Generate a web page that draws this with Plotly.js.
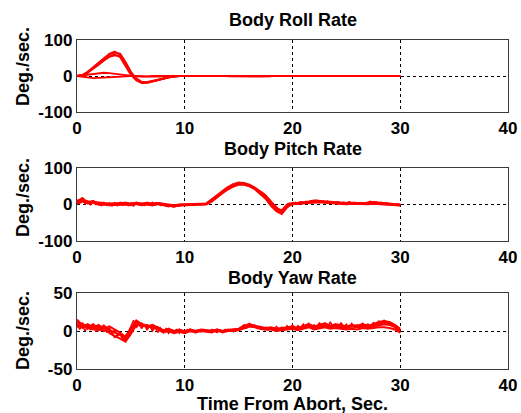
<!DOCTYPE html>
<html>
<head>
<meta charset="utf-8">
<script src="https://cdn.plot.ly/plotly-3.0.1.min.js"></script>
<style>html,body{margin:0;padding:0;background:#fff;}#chart{width:521px;height:413px;}</style>
</head>
<body>
<div id="chart"></div>
<script>
// ---- data ----
const titles = ["Body Roll Rate", "Body Pitch Rate", "Body Yaw Rate"];
const yLabel = "Deg./sec.";
const xLabel = "Time From Abort, Sec.";
const xTicks = [0, 10, 20, 30, 40];
const rollTicks = [-100, 0, 100];
const pitchTicks = [-100, 0, 100];
const yawTicks = [-50, 0, 50];

const rollTime = [0,0.5,1,1.5,2,2.5,3,3.5,4,4.5,5,5.5,6,6.5,7,7.5,8,8.5,9,9.5,10,15,20,25,30];
const roll1 = [0,3,12,24,37,50,62,68,58,32,5,-12,-20,-19,-16,-12,-8,-4,-1,0,0,0,0,0,0];
const roll2 = [0,2,10,21,33,45,55,60,52,28,3,-11,-18,-17,-14,-10,-6,-3,0,0,0,0,0,0,0];
const roll3 = [0,2,9,19,31,43,53,57,55,36,10,-6,-16,-17,-15,-11,-7,-3,-1,0,0,0,0,0,0];
const roll4 = [0,3,11,23,35,48,60,65,62,40,12,-8,-18,-19,-16,-12,-8,-4,-1,0,0,0,0,0,0];
const roll5 = [0,2,4,6,8,9,8,6,3,1,0,-1,-2,-3,-2,-2,-1,0,0,0,0,0,0,0,0];
const roll6 = [0,-2,-4,-6,-5,-4,-3,-1,0,1,0,0,-1,-1,0,0,0,0,0,0,0,0,0,0,0];
const rollTailTime = [14,15,16,17,18];
const rollTail = [-1,-2,-1,-2,-1];

const time = [0,0.5,1,1.5,2,2.5,3,3.5,4,4.5,5,5.5,6,6.5,7,7.5,8,8.5,9,9.5,
  10,10.5,11,11.5,12,12.5,13,13.5,14,14.5,15,15.5,16,16.5,17,17.5,18,18.5,19,19.5,
  20,20.5,21,21.5,22,22.5,23,23.5,24,24.5,25,25.5,26,26.5,27,27.5,28,28.5,29,29.5,30];

const timeFine = [0,0.25,0.5,0.75,1,1.25,1.5,1.75,2,2.25,2.5,2.75,3,3.25,3.5,3.75,4,4.25,4.5,4.75,
  5,5.25,5.5,5.75,6,6.25,6.5,6.75,7,7.25,7.5,7.75,8,8.25,8.5,8.75,9,9.25,9.5,9.75,
  10,10.25,10.5,10.75,11,11.25,11.5,11.75,12,12.25,12.5,12.75,13,13.25,13.5,13.75,14,14.25,14.5,14.75,
  15,15.25,15.5,15.75,16,16.25,16.5,16.75,17,17.25,17.5,17.75,18,18.25,18.5,18.75,19,19.25,19.5,19.75,
  20,20.25,20.5,20.75,21,21.25,21.5,21.75,22,22.25,22.5,22.75,23,23.25,23.5,23.75,24,24.25,24.5,24.75,
  25,25.25,25.5,25.75,26,26.25,26.5,26.75,27,27.25,27.5,27.75,28,28.25,28.5,28.75,29,29.25,29.5,29.75,30];

const pitch1 = [5,12,6,8,3,1,2,0,3,1, 2,4,1,3,2,4,1,-2,-4,-1, 0,1,1,1,2,12,24,36,46,54,
  58,57,52,44,34,20,2,-14,-20,-2, 3,4,5,7,9,8,6,5,4,5, 3,4,3,2,3,5,4,2,1,0, -1];
const pitch2 = [8,18,4,10,1,3,-1,2,0,4, -1,3,0,2,-1,3,-1,-3,-6,-2, -1,0,0,2,1,10,22,34,44,52,
  56,56,51,42,30,16,-4,-18,-26,-8, 2,3,4,6,8,9,7,6,4,4, 2,3,2,1,2,6,3,1,0,-1, -2];
const pitch3 = [2,8,3,5,-1,0,-2,-1,-2,0, -2,1,-2,0,-3,1,-2,-4,-5,-3, -2,-1,0,0,0,8,20,31,41,49,
  54,54,50,43,33,22,6,-10,-16,0, 1,2,3,5,6,6,5,4,3,3, 1,2,1,0,1,2,2,0,-1,-2, -3];
const pitch4 = [10,14,8,6,5,4,3,4,3,5, 3,5,3,5,2,4,2,0,-2,0, 1,2,2,3,3,14,26,38,48,56,
  60,59,54,46,36,24,8,-8,-22,-6, 4,5,6,8,11,10,8,7,6,6, 4,5,4,3,3,7,5,3,2,1, 0];
const pitch5 = [12,4,16,2, 9,-1,7,0, 5,-3,6,-2, 4,-4,5,-3, 6,-2,5,-3, 4,-4,6,-1, 3,-3,5,-2,
  6,-2,4,-3, 3,-4,-6,-2, -6,-3,-5,-1, 0,-2,1,-1, 1,0,2,0, 2,8,14,20, 26,32,38,42,
  47,51,54,57, 59,58,57,55, 53,50,46,42, 37,32,26,18, 10,0,-10,-18, -24,-10,0,4,
  2,6,3,7, 4,8,6,10, 8,12,6,10, 5,9,4,8, 3,7,2,6, 4,8,3,6, 2,5,1,4, 6,9,4,7,
  3,6,1,4, 2,3,0,1, -1];

const yaw1 = [12,6,9,4,8,3,6,2,-2,-8, 4,12,8,6,5,3,1,2,0,1, -1,1,0,1,1,0,2,0,1,2,
  3,7,9,7,5,4,5,3,4,5, 6,4,7,9,6,8,10,7,9,8, 6,8,7,9,7,9,12,13,12,8, 3];
const yaw2 = [5,10,3,7,1,5,-3,-6,-10,-14, -4,8,10,4,7,2,-2,0,-3,-1, -3,0,-2,0,-1,-2,1,-2,0,0,
  1,4,6,5,3,2,3,1,2,3, 4,2,5,6,4,5,7,5,6,5, 4,6,5,6,5,6,8,9,8,5, 0];
const yaw3 = [8,4,7,2,6,0,3,-8,-4,-12, 0,9,6,8,3,5,0,3,-1,2, -2,2,-1,1,0,-1,1,-1,2,1,
  2,5,8,6,4,3,4,2,3,4, 5,3,6,8,5,7,9,6,8,7, 5,7,6,8,6,8,10,11,10,6, 1];
const yaw4 = [15,8,5,9,3,7,1,-2,-5,-10, 2,14,9,6,8,4,1,2,0,1, 0,2,0,2,1,0,2,0,1,2,
  2,6,8,5,3,2,2,0,1,2, 3,1,3,5,2,4,5,3,4,3, 2,3,2,4,3,4,5,5,4,2, -2];
const yaw5 = [10,2,8,0, 7,1,9,-1, 6,0,8,-2, 4,-4,2,-6, -3,-12,-6,-2, 6,14,4,10, 3,9,1,7,
  0,5,-2,4, -2,3,-3,2, -1,2,-3,1, -2,2,-1,1, -2,1,-1,2, 0,-1,2,0, -2,1,-1,2, 0,2,-1,3,
  2,5,8,4, 10,6,8,3, 6,2,5,1, 4,1,6,2, 5,1,7,3, 8,2,7,4, 9,3,10,5, 8,4,11,5,
  10,4,12,6, 9,3,11,5, 9,4,10,5, 8,3,10,6, 9,5,11,8, 13,10,14,11, 12,8,6,2, -2];

// ---- build ----
const RED = "#ff0000";
function tr(x, y, xa, ya, w) {
  return {x: x, y: y, xaxis: xa, yaxis: ya, type: "scatter", mode: "lines",
    line: {color: RED, width: w || 1.8}, hoverinfo: "skip", showlegend: false};
}
const traces = [];
[roll1, roll2, roll3, roll4, roll5, roll6].forEach(s => traces.push(tr(rollTime, s, "x", "y")));
traces.push(tr(rollTailTime, rollTail, "x", "y"));
[pitch1, pitch2, pitch3, pitch4].forEach(s => traces.push(tr(time, s, "x2", "y2", 2)));
traces.push(tr(timeFine, pitch5, "x2", "y2", 1.5));
[yaw1, yaw2, yaw3, yaw4].forEach(s => traces.push(tr(time, s, "x3", "y3", 2)));
traces.push(tr(timeFine, yaw5, "x3", "y3", 1.5));

const H = 413, L = 77, R = 13, PW = 521 - L - R;
const py = p => (H - p) / H;
const px = p => (p - L) / PW;
const tickFont = {family: "Liberation Sans, Arial, sans-serif", size: 17, color: "#000", weight: "bold"};
const titleFont = {family: "Liberation Sans, Arial, sans-serif", size: 18, color: "#000", weight: "bold"};

function xax(anchor) {
  return {range: [0, 40], tickvals: xTicks, ticktext: xTicks.map(String), showgrid: true,
    gridcolor: "#000", griddash: "dot", gridwidth: 1, zeroline: false, showline: true, mirror: true,
    linecolor: "#3a3a3a", linewidth: 1.2, ticks: "", tickfont: tickFont, anchor: anchor, domain: [0, 1], fixedrange: true};
}
function yax(anchor, rng, tv, dom) {
  return {range: rng, tickvals: tv, ticktext: tv.map(String), showgrid: true,
    gridcolor: "#000", griddash: "dot", gridwidth: 1, zeroline: false, showline: true, mirror: true,
    linecolor: "#3a3a3a", linewidth: 1.2, ticks: "", tickfont: tickFont, anchor: anchor, domain: dom, fixedrange: true};
}

function ann(text, x, y, angle) {
  const a = {text: text, x: x, y: y, xref: "paper", yref: "paper", showarrow: false,
    font: titleFont, xanchor: "center", yanchor: "middle"};
  if (angle) a.textangle = angle;
  return a;
}

const layout = {
  width: 521, height: 413,
  margin: {l: L, r: R, t: 0, b: 0},
  paper_bgcolor: "#fff", plot_bgcolor: "#fff",
  xaxis: xax("y"),
  yaxis: yax("x", [-100, 100], rollTicks, [py(112), py(40)]),
  xaxis2: xax("y2"),
  yaxis2: yax("x2", [-100, 100], pitchTicks, [py(241), py(168)]),
  xaxis3: xax("y3"),
  yaxis3: yax("x3", [-50, 50], yawTicks, [py(369), py(293)]),
  annotations: [
    ann(titles[0], 0.5, py(20)),
    ann(titles[1], 0.5, py(149)),
    ann(titles[2], 0.5, py(278)),
    ann(xLabel, 0.5, py(404)),
    ann(yLabel, px(23), py(67), -90),
    ann(yLabel, px(23), py(198), -90),
    ann(yLabel, px(23), py(331), -90)
  ]
};

Plotly.newPlot("chart", traces, layout, {displayModeBar: false, staticPlot: true});
</script>
</body>
</html>
